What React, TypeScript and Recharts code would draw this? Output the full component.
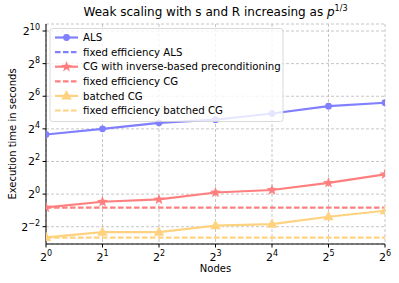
import React from "react";
import { LineChart, Line, XAxis, YAxis, CartesianGrid } from "recharts";

const nodes = [1, 2, 4, 8, 16, 32, 64];
const alsTime = [12.6, 16.0, 20.7, 23.6, 30.7, 41.9, 48.5];
const cgTime = [0.567, 0.722, 0.796, 1.07, 1.19, 1.61, 2.31];
const batchedTime = [0.159, 0.198, 0.198, 0.261, 0.278, 0.382, 0.493];
const cgFixed = [0.561, 0.561, 0.561, 0.561, 0.561, 0.561, 0.561];
const batchedFixed = [0.157, 0.157, 0.157, 0.157, 0.157, 0.157, 0.157];
const xTicks = [1, 2, 4, 8, 16, 32, 64];
const yTicks = [0.25, 1, 4, 16, 64, 256, 1024];

const seriesLabels = [
  "ALS",
  "fixed efficiency ALS",
  "CG with inverse-based preconditioning",
  "fixed efficiency CG",
  "batched CG",
  "fixed efficiency batched CG",
];

const BLUE = "#7f7fff";
const RED = "#ff7f7f";
const ORANGE = "#ffd27f";

const data = nodes.map((n, i) => ({
  n,
  als: alsTime[i],
  cg: cgTime[i],
  batched: batchedTime[i],
  cgFixed: cgFixed[i],
  batchedFixed: batchedFixed[i],
}));

const FONT = "DejaVu Sans, sans-serif";

const Pow = ({ v }: { v: number }) => {
  const e = Math.round(Math.log2(v));
  return (
    <>
      <tspan>2</tspan>
      <tspan dy={-5} fontSize={8}>{e < 0 ? "\u2212" + Math.abs(e) : String(e)}</tspan>
    </>
  );
};

const XTick = (props: any) => {
  const { x, y, payload } = props;
  return (
    <text x={x} y={y + 11} textAnchor="middle" fontSize={11} fontFamily={FONT} fill="#000">
      <Pow v={payload.value} />
    </text>
  );
};

const YTick = (props: any) => {
  const { x, y, payload } = props;
  return (
    <text x={x - 0.5} y={y + 4} textAnchor="end" fontSize={11} fontFamily={FONT} fill="#000">
      <Pow v={payload.value} />
    </text>
  );
};

const starPath = (cx: number, cy: number, R: number, r: number) => {
  let d = "";
  for (let i = 0; i < 10; i++) {
    const rad = i % 2 === 0 ? R : r;
    const a = -Math.PI / 2 + (i * Math.PI) / 5;
    d += (i === 0 ? "M" : "L") + (cx + rad * Math.cos(a)).toFixed(2) + "," + (cy + rad * Math.sin(a)).toFixed(2);
  }
  return d + "Z";
};

const CircleDot = (p: any) =>
  p.cx == null ? null : <circle key={p.index} cx={p.cx} cy={p.cy} r={3.4} fill={BLUE} />;
const StarDot = (p: any) =>
  p.cx == null ? null : <path key={p.index} d={starPath(p.cx, p.cy, 5.8, 2.4)} fill={RED} />;
const TriDot = (p: any) =>
  p.cx == null ? null : (
    <path key={p.index} d={`M${p.cx},${p.cy - 5.8}L${p.cx + 5.2},${p.cy + 3.6}L${p.cx - 5.2},${p.cy + 3.6}Z`} fill={ORANGE} />
  );

const Legend = () => {
  const items = [
    { c: BLUE, dash: false, m: "circle" },
    { c: BLUE, dash: true, m: "" },
    { c: RED, dash: false, m: "star" },
    { c: RED, dash: true, m: "" },
    { c: ORANGE, dash: false, m: "tri" },
    { c: ORANGE, dash: true, m: "" },
  ];
  return (
    <svg width={399} height={283} style={{ position: "absolute", left: 0, top: 0, pointerEvents: "none" }}>
      <rect x={50} y={28.5} width={233} height={93} rx={2.5} fill="rgba(255,255,255,0.8)" stroke="#d0d0d0" strokeWidth={0.8} />
      {items.map((it, i) => {
        const y = 37.5 + i * 14.6;
        return (
          <g key={i}>
            <line x1={55} x2={78} y1={y} y2={y} stroke={it.c} strokeWidth={2.2} strokeDasharray={it.dash ? "5.5 2.5" : undefined} />
            {it.m === "circle" && <circle cx={66.5} cy={y} r={3.4} fill={it.c} />}
            {it.m === "star" && <path d={starPath(66.5, y, 5.8, 2.4)} fill={it.c} />}
            {it.m === "tri" && <path d={`M66.5,${y - 5.8}L71.7,${y + 3.6}L61.3,${y + 3.6}Z`} fill={it.c} />}
            <text x={83} y={y + 3.6} fontSize={10.2} fontFamily={FONT} fill="#000">
              {seriesLabels[i]}
            </text>
          </g>
        );
      })}
    </svg>
  );
};

export default function App() {
  return (
    <div style={{ position: "absolute", left: 0, top: 0, width: 399, height: 283, background: "#fff" }}>
      <LineChart width={399} height={283} data={data} margin={{ top: 24, right: 14, bottom: 9, left: 6 }}>
        <CartesianGrid stroke="#b8b8b8" strokeDasharray="3 2" strokeWidth={0.8} />
        <XAxis
          dataKey="n"
          type="number"
          scale="log"
          domain={[1, 64]}
          ticks={xTicks}
          allowDataOverflow
          height={30}
          tick={<XTick />}
          tickSize={3.5}
          tickLine={{ stroke: "#000" }}
          axisLine={{ stroke: "#000", strokeWidth: 1 }}
          interval={0}
        />
        <XAxis xAxisId="top" orientation="top" dataKey="n" type="number" scale="log" domain={[1, 64]} height={0} tick={false} tickLine={false} axisLine={{ stroke: "#000" }} />
        <YAxis
          type="number"
          scale="log"
          domain={[Math.pow(2, -3.06), Math.pow(2, 10.43)]}
          ticks={yTicks}
          allowDataOverflow
          width={40}
          tick={<YTick />}
          tickSize={3.5}
          tickLine={{ stroke: "#000" }}
          axisLine={{ stroke: "#000", strokeWidth: 1 }}
          interval={0}
        />
        <YAxis yAxisId="right" orientation="right" type="number" scale="log" domain={[Math.pow(2, -3.06), Math.pow(2, 10.43)]} width={0} tick={false} tickLine={false} axisLine={{ stroke: "#000" }} />
        <Line dataKey="cgFixed" stroke={RED} strokeWidth={2.2} strokeDasharray="5.5 2.5" dot={false} isAnimationActive={false} />
        <Line dataKey="batchedFixed" stroke={ORANGE} strokeWidth={2.2} strokeDasharray="5.5 2.5" dot={false} isAnimationActive={false} />
        <Line dataKey="als" stroke={BLUE} strokeWidth={2.2} dot={<CircleDot />} isAnimationActive={false} />
        <Line dataKey="cg" stroke={RED} strokeWidth={2.2} dot={<StarDot />} isAnimationActive={false} />
        <Line dataKey="batched" stroke={ORANGE} strokeWidth={2.2} dot={<TriDot />} isAnimationActive={false} />
      </LineChart>
      <Legend />
      <div style={{ position: "absolute", left: 0, top: 4, width: 431, textAlign: "center", fontFamily: FONT, fontSize: 12, color: "#000" }}>
        Weak scaling with s and R increasing as <i>p</i>
        <sup style={{ fontSize: 8 }}>1/3</sup>
      </div>
      <div style={{ position: "absolute", left: 0, top: 263, width: 431, textAlign: "center", fontFamily: FONT, fontSize: 10, lineHeight: "12px", color: "#000" }}>
        Nodes
      </div>
      <div
        style={{
          position: "absolute",
          left: 12,
          top: 134,
          transform: "translate(-50%, -50%) rotate(-90deg)",
          whiteSpace: "nowrap",
          fontFamily: FONT,
          fontSize: 10,
          color: "#000",
        }}
      >
        Execution time in seconds
      </div>
    </div>
  );
}
